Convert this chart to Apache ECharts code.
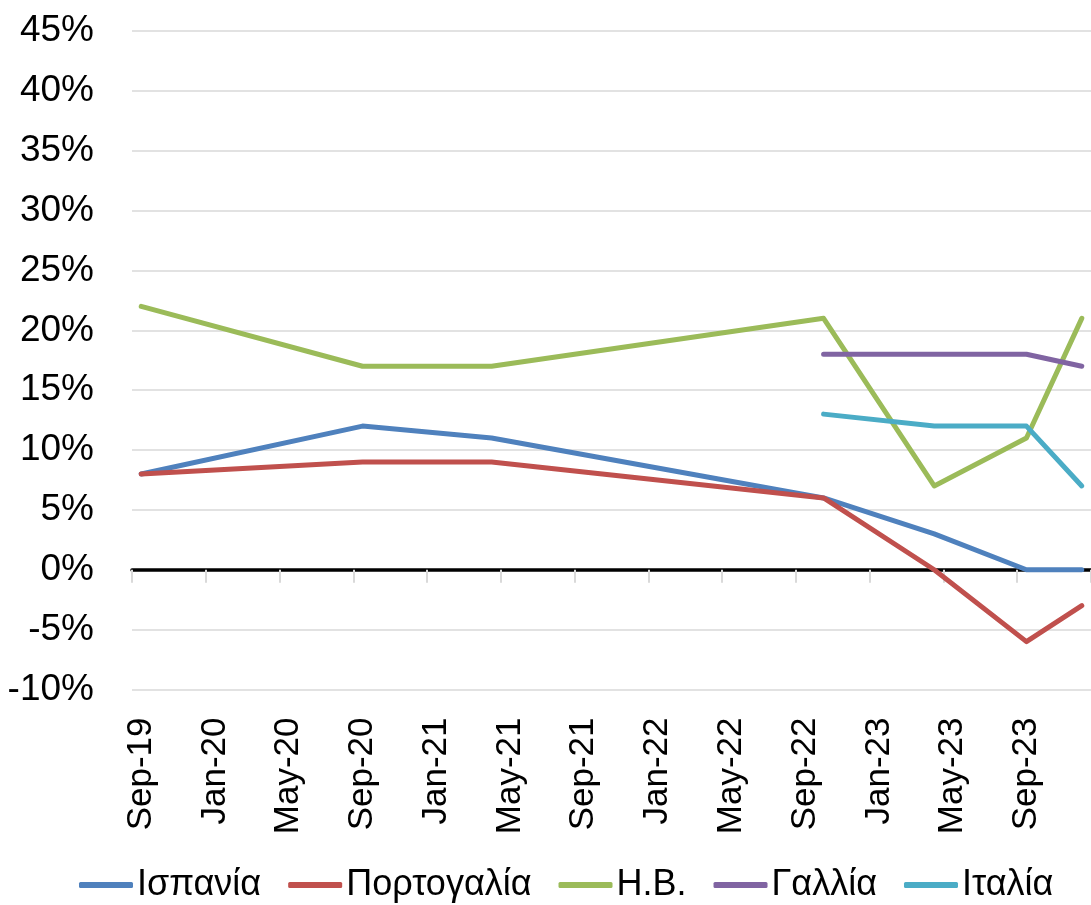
<!DOCTYPE html>
<html>
<head>
<meta charset="utf-8">
<script src="https://cdn.jsdelivr.net/npm/echarts@6/dist/echarts.min.js"></script>
<style>
html,body{margin:0;padding:0;background:#fff;}
#c{width:1091px;height:905px;}
</style>
</head>
<body>
<div id="c"></div>
<script>
const months = ['Sep-19','Oct-19','Nov-19','Dec-19',
  'Jan-20','Feb-20','Mar-20','Apr-20','May-20','Jun-20','Jul-20','Aug-20','Sep-20','Oct-20','Nov-20','Dec-20',
  'Jan-21','Feb-21','Mar-21','Apr-21','May-21','Jun-21','Jul-21','Aug-21','Sep-21','Oct-21','Nov-21','Dec-21',
  'Jan-22','Feb-22','Mar-22','Apr-22','May-22','Jun-22','Jul-22','Aug-22','Sep-22','Oct-22','Nov-22','Dec-22',
  'Jan-23','Feb-23','Mar-23','Apr-23','May-23','Jun-23','Jul-23','Aug-23','Sep-23','Oct-23','Nov-23','Dec-23'];

const datesA = ['Sep-19','Sep-20','Apr-21','Oct-22','Apr-23','Sep-23','Dec-23'];
const spain    = [8, 12, 11, 6, 3, 0, 0];
const portugal = [8, 9, 9, 6, 0, -6, -3];
const uk       = [22, 17, 17, 21, 7, 11, 21];

const datesB = ['Oct-22','Apr-23','Sep-23','Dec-23'];
const france = [18, 18, 18, 17];
const italy  = [13, 12, 12, 7];

const seriesNames = ['Ισπανία','Πορτογαλία','Η.Β.','Γαλλία','Ιταλία'];
const colors = ['#4F81BD','#C0504D','#9BBB59','#8064A2','#4BACC6'];

const FONT = "'Liberation Sans',Arial,sans-serif";

function pairs(dates, vals){ return dates.map((d,i)=>[d, vals[i]]); }

const seriesData = [pairs(datesA, spain), pairs(datesA, portugal), pairs(datesA, uk), pairs(datesB, france), pairs(datesB, italy)];

const chart = echarts.init(document.getElementById('c'), null, {renderer:'canvas'});
chart.setOption({
  animation:false,
  color: colors,
  grid:{left:132, right:-6, top:31, bottom:215.5, containLabel:false},
  legend:{
    data: seriesNames,
    left: 74, top: 862, width: 1050,
    icon: 'roundRect',
    itemWidth: 54, itemHeight: 6,
    itemGap: 27,
    textStyle:{fontFamily:FONT, fontSize:36, color:'#000', padding:[0,0,0,-1]}
  },
  xAxis:[{
    type:'category', data: months, boundaryGap:true, position:'bottom',
    axisLine:{onZero:true, lineStyle:{color:'#000', width:3.5}},
    axisTick:{show:true, interval:3, length:13, lineStyle:{color:'#d9d9d9', width:2}},
    axisLabel:{show:false},
    splitLine:{show:false}
  },{
    type:'category', data: months, boundaryGap:true, position:'bottom',
    axisLine:{show:false, onZero:false},
    axisTick:{show:false},
    axisLabel:{show:true, interval:3, rotate:90, margin:28, fontFamily:FONT, fontSize:35, color:'#000'},
    splitLine:{show:false}
  }],
  yAxis:{
    type:'value', min:-10, max:45, interval:5,
    axisLine:{show:false}, axisTick:{show:false},
    axisLabel:{formatter:'{value}%', fontFamily:FONT, fontSize:37, color:'#000', margin:38},
    splitLine:{lineStyle:{color:'#d9d9d9', width:1.5}}
  },
  series: seriesNames.map((n,i)=>({
    name:n, type:'line', data: seriesData[i], symbol:'none', xAxisIndex:0,
    lineStyle:{width:5, color:colors[i], cap:'round', join:'round'},
    itemStyle:{color:colors[i]}
  }))
});
</script>
</body>
</html>
